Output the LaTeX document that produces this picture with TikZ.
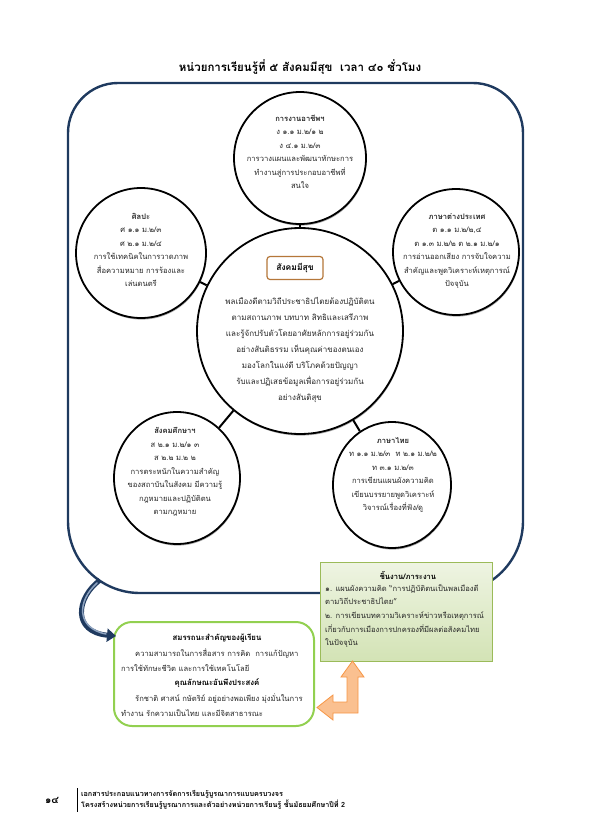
\documentclass[tikz,border=0pt]{standalone}
\usepackage{fontspec}
\newfontfamily\thai[Script=Thai]{Loma}
\usetikzlibrary{arrows.meta,calc,shapes.geometric,shadows}
\definecolor{navy}{HTML}{1F3A5F}
\definecolor{navylight}{HTML}{8EA3C0}
\definecolor{gboxline}{HTML}{9BBB59}
\definecolor{gboxtop}{HTML}{EEF4E2}
\definecolor{gboxbot}{HTML}{D3E3B5}
\definecolor{lgreen}{HTML}{92D050}
\definecolor{orline}{HTML}{F79646}
\definecolor{orfill}{HTML}{FAC090}
\definecolor{brownbox}{HTML}{B5773A}
\begin{document}
\begin{tikzpicture}[x=1pt,y=-1pt,
  circ/.style={ellipse, draw=black, line width=1.8pt, fill=white, inner sep=0pt,
    drop shadow={shadow xshift=0.6pt, shadow yshift=-1.6pt, opacity=0.45, fill=black!70}},
  link/.style={draw=black, line width=2pt},
  txt/.style={font=\thai\fontsize{7.6}{13.5}\selectfont, align=center, inner sep=0pt, text=black!85},
  ctxt/.style={font=\thai\fontsize{8}{16}\selectfont, align=center, inner sep=0pt, text=black!85},
  btxt/.style={font=\thai\fontsize{7.6}{14.5}\selectfont, align=left, inner sep=0pt, text=black!85},
  gtxt/.style={font=\thai\fontsize{7.6}{13.6}\selectfont, align=left, inner sep=0pt, text=black!85},
  frame/.style={draw=navy, line width=2.4pt}
]
\useasboundingbox (0,0) rectangle (595,836);

% title
\node[font=\thai\bfseries\fontsize{11.5}{14}\selectfont] (title) at (300,67) {หน่วยการเรียนรู้ที่ ๕ สังคมมีสุข\ \ เวลา ๔๐ ชั่วโมง};

% frame (top corners r=50, bottom corners r=72)
\draw[frame] (68,133) arc[start angle=180, end angle=270, radius=50] -- (473,83)
  arc[start angle=270, end angle=360, radius=50] -- (523,521)
  arc[start angle=0, end angle=90, radius=72] -- (140,593)
  arc[start angle=90, end angle=180, radius=72] -- cycle;

% circles
\node[circ, minimum width=132pt, minimum height=132pt] (ctop) at (300,158) {};
\node[circ, minimum width=130pt, minimum height=130pt] (cleft) at (141,253) {};
\node[circ, minimum width=126pt, minimum height=126pt] (cright) at (456,252) {};
\node[circ, minimum width=126pt, minimum height=132pt] (cbl) at (177,478) {};
\node[circ, minimum width=118pt, minimum height=126pt] (cbr) at (392,485) {};
\node[circ, minimum width=206pt, minimum height=206pt] (ccen) at (300,331) {};

% short links between the centre circle and the outer circles
\draw[link] (ccen) -- (ctop);
\draw[link] (ccen) -- (cleft);
\draw[link] (ccen) -- (cright);
\draw[link] (ccen) -- (cbl);
\draw[link] (ccen) -- (cbr);

% circle texts
\node[txt] (ttop) at (300,152) {{\bfseries การงานอาชีพฯ}\\ ง ๑.๑ ม.๒/๑ ๒\\ ง ๔.๑ ม.๒/๓\\ การวางแผนและพัฒนาทักษะการ\\ ทำงานสู่การประกอบอาชีพที่\\ สนใจ};
\node[txt] (tleft) at (141,250) {{\bfseries ศิลปะ}\\ ศ ๑.๑ ม.๒/๓\\ ศ ๒.๑ ม.๒/๔\\ การใช้เทคนิคในการวาดภาพ\\ สื่อความหมาย การร้องและ\\ เล่นดนตรี};
\node[txt] (tright) at (457,251) {{\bfseries ภาษาต่างประเทศ}\\ ต ๑.๑ ม.๒/๒,๔\\ ต ๑.๓ ม.๒/๒ ต ๒.๑ ม.๒/๑\\ การอ่านออกเสียง การจับใจความ\\ สำคัญและพูดวิเคราะห์เหตุการณ์\\ ปัจจุบัน};
\node[txt] (tbl) at (175,472) {{\bfseries สังคมศึกษาฯ}\\ ส ๒.๑ ม.๒/๑ ๓\\ ส ๒.๒ ม.๒ ๒\\ การตระหนักในความสำคัญ\\ ของสถาบันในสังคม มีความรู้\\ กฎหมายและปฏิบัติตน\\ ตามกฎหมาย};
\node[txt] (tbr) at (393,475) {{\bfseries ภาษาไทย}\\ ท ๑.๑ ม.๒/๓\ \ ท ๒.๑ ม.๒/๒\\ ท ๓.๑ ม.๒/๓\\ การเขียนแผนผังความคิด\\ เขียนบรรยายพูดวิเคราะห์\\ วิจารณ์เรื่องที่ฟัง/ดู};

% center
\node[draw=brownbox, line width=1.2pt, rounded corners=3pt, fill=white, minimum width=56pt, minimum height=23pt, font=\thai\bfseries\fontsize{8.5}{10}\selectfont] (cbox) at (295,268) {สังคมมีสุข};
\node[ctxt] (tcen) at (300,350) {พลเมืองดีตามวิถีประชาธิปไตยต้องปฏิบัติตน\\ ตามสถานภาพ บทบาท สิทธิและเสรีภาพ\\ และรู้จักปรับตัวโดยอาศัยหลักการอยู่ร่วมกัน\\ อย่างสันติธรรม เห็นคุณค่าของตนเอง\\ มองโลกในแง่ดี บริโภคด้วยปัญญา\\ รับและปฏิเสธข้อมูลเพื่อการอยู่ร่วมกัน\\ อย่างสันติสุข};

% green task box
\node[draw=gboxline, line width=0.8pt, top color=gboxtop, bottom color=gboxbot, minimum width=172pt, minimum height=99pt, inner sep=0pt] (gbox) at (406,612) {};
\node[font=\thai\bfseries\fontsize{7.6}{10}\selectfont, inner sep=0pt] (gtitle) at (408,575) {ชิ้นงาน/ภาระงาน};
\node[gtxt, anchor=north west] (gtext) at (325,584) {๑. แผนผังความคิด “การปฏิบัติตนเป็นพลเมืองดี\\ ตามวิถีประชาธิปไตย”\\ ๒. การเขียนบทความวิเคราะห์ข่าวหรือเหตุการณ์\\ เกี่ยวกับการเมืองการปกครองที่มีผลต่อสังคมไทย\\ ในปัจจุบัน};

% competency box
\node[draw=lgreen, line width=2pt, rounded corners=18pt, fill=white, minimum width=200pt, minimum height=104pt, inner sep=0pt] (sbox) at (214,674) {};
\node[font=\thai\bfseries\fontsize{7.8}{10}\selectfont, inner sep=0pt] (st1) at (217,638) {สมรรถนะสำคัญของผู้เรียน};
\node[btxt, anchor=west] (st2) at (135,653) {ความสามารถในการสื่อสาร การคิด\ \ การแก้ปัญหา};
\node[btxt, anchor=west] (st3) at (121,668) {การใช้ทักษะชีวิต และการใช้เทคโนโลยี};
\node[font=\thai\bfseries\fontsize{7.8}{10}\selectfont, inner sep=0pt] (st4) at (217,683) {คุณลักษณะอันพึงประสงค์};
\node[btxt, anchor=west] (st5) at (135,699) {รักชาติ ศาสน์ กษัตริย์ อยู่อย่างพอเพียง มุ่งมั่นในการ};
\node[btxt, anchor=west] (st6) at (121,713) {ทำงาน รักความเป็นไทย และมีจิตสาธารณะ};

% curved navy arrow from frame to competency box
\coordinate (arA) at (100,580);
\coordinate (arB) at (116,636);
\draw[navy, line width=5pt, -{Triangle[length=9pt,width=13pt]}] (arA) .. controls (76,598) and (72,632) .. (arB);
\draw[navylight, line width=1.5pt, line cap=round] ($(arA)+(-3,3)$) .. controls (77,601) and (76,628) .. ($(arB)+(-10,-2)$);

% orange L arrow between task box and competency box
\coordinate (orTip) at (352.5,661);
\draw[orline, line width=0.8pt, fill=orfill] (orTip) -- (364,677) -- (358,677) -- (358,713) -- (333,713) -- (333,720) -- (317,707.5) -- (333,695) -- (333,702) -- (347,702) -- (347,677) -- (341,677) -- cycle;

% footer
\node[font=\thai\bfseries\fontsize{10}{12}\selectfont, inner sep=0pt] (pnum) at (52,800) {๑๔};
\coordinate (vl1) at (77,788);
\coordinate (vl2) at (77,812);
\draw[line width=0.6pt] (vl1) -- (vl2);
\node[font=\thai\bfseries\fontsize{7.2}{8}\selectfont, anchor=west, inner sep=0pt] (f1) at (81,794) {เอกสารประกอบแนวทางการจัดการเรียนรู้บูรณาการแบบครบวงจร};
\node[font=\thai\bfseries\fontsize{7.2}{8}\selectfont, anchor=west, inner sep=0pt] (f2) at (81,805) {โครงสร้างหน่วยการเรียนรู้บูรณาการและตัวอย่างหน่วยการเรียนรู้ ชั้นมัธยมศึกษาปีที่ 2};
\end{tikzpicture}
\end{document}
